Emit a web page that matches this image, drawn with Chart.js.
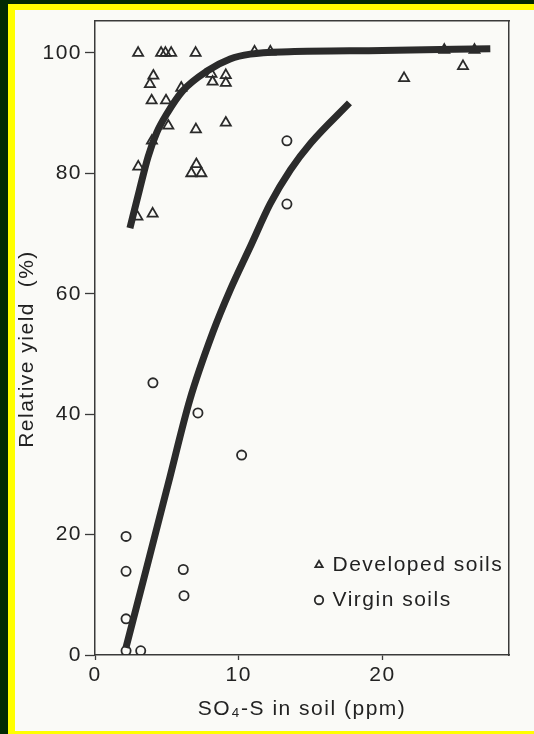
<!DOCTYPE html>
<html>
<head>
<meta charset="utf-8">
<script src="https://cdn.jsdelivr.net/npm/chart.js@4.4.0/dist/chart.umd.min.js"></script>
<style>
  html, body { margin: 0; padding: 0; width: 534px; height: 734px; overflow: hidden; background: #012a03; }
  #frame { position: absolute; left: 8px; top: 4px; width: 526px; height: 730px; background: #ffff00; }
  #paper { position: absolute; left: 15px; top: 10px; width: 519px; height: 721px; background: #fafaf7; }
  canvas { display: block; }
</style>
</head>
<body>
<div id="frame"></div>
<div id="paper"><canvas id="chart" width="519" height="721"></canvas></div>
<script>
// --- DONNÉES ---
const xTicks = [0, 10, 20];
const yTicks = [0, 20, 40, 60, 80, 100];

// Sols développés (triangles)
const developedX = [3.0, 4.6, 4.9, 5.3, 7.0, 4.06, 3.82, 3.94, 4.94, 8.18, 9.1, 9.1, 9.1, 7.02,
                    7.05, 6.7, 7.4, 3.01, 4.01, 21.5, 25.6,
                    2.95, 3.96, 5.1, 6.0, 8.1, 11.1, 12.2, 24.3, 26.4];
const developedY = [100, 100, 100, 100, 100, 96.2, 94.8, 92.1, 92.1, 95.2, 96.3, 95.0, 88.4, 87.3,
                    81.5, 80.0, 80.0, 81.1, 73.3, 95.8, 97.8,
                    72.8, 85.4, 87.9, 94.2, 96.5, 100.2, 100.2, 100.5, 100.5];

// Sols vierges (cercles)
const virginX = [4.03, 7.16, 10.2, 2.16, 2.16, 6.14, 6.19, 2.16, 2.16, 3.18, 13.35, 13.35];
const virginY = [45.2, 40.2, 33.2, 19.7, 13.9, 14.2, 9.85, 6.0, 0.7, 0.7, 85.4, 74.9];

// Courbes ajustées (tracé épais)
const developedFitX = [2.43, 3.1, 3.7, 4.3, 5.0, 6.1, 7.8, 9.4, 10.8, 13.5, 20, 27.5];
const developedFitY = [70.9, 77.3, 82.8, 86.8, 89.9, 93.7, 97.0, 99.0, 99.8, 100.2, 100.4, 100.7];
const virginFitX = [2.15, 3.55, 5.1, 6.6, 8.2, 9.4, 10.8, 12.2, 13.6, 15.0, 17.7];
const virginFitY = [1.2, 14.1, 28.5, 42.4, 53.6, 60.6, 67.8, 75.0, 80.6, 85.0, 91.7];

// --- STYLE ---
const ink = '#222';
const fontFamily = '"Liberation Sans", Arial, "DejaVu Sans", sans-serif';
Chart.defaults.font.family = fontFamily;
Chart.defaults.font.size = 21;
Chart.defaults.color = ink;

function toPoints(xs, ys) {
  return xs.map((x, i) => ({ x: x, y: ys[i] }));
}

// Police du scan un peu large : on espace les lettres
const spacing = {
  id: 'spacing',
  beforeUpdate: c => { c.ctx.letterSpacing = '1.5px'; },
  beforeDraw: c => { c.ctx.letterSpacing = '1.5px'; }
};

// Légende placée dans la zone du graphique, en bas à droite
const legendSpot = {
  id: 'legendSpot',
  afterLayout: c => {
    const lg = c.legend;
    lg.left = 287;
    lg.top = 530.5;
    lg.width = 232;
    lg.height = 110;
    lg.right = lg.left + lg.width;
    lg.bottom = lg.top + lg.height;
  }
};

// Pas de marge supplémentaire : le cadre est fixé à la main
function noPadding(s) {
  s.paddingTop = 0;
  s.paddingBottom = 0;
  s.paddingLeft = 0;
  s.paddingRight = 0;
}

const frameAxis = size => ({
  display: true,
  afterFit: s => {
    if (s.isHorizontal()) s.height = size; else s.width = size;
    noPadding(s);
  },
  ticks: { display: false },
  grid: { display: false },
  border: { display: true, color: '#3a3a3a', width: 1.5 }
});

new Chart(document.getElementById('chart'), {
  type: 'scatter',
  data: {
    datasets: [
      {
        label: 'Developed soils',
        data: toPoints(developedX, developedY),
        pointStyle: 'triangle',
        pointRadius: 5.8,
        pointHoverRadius: 5.8,
        borderColor: '#2a2a2a',
        backgroundColor: 'rgba(0,0,0,0)',
        borderWidth: 1.8,
        order: 2
      },
      {
        label: 'Virgin soils',
        data: toPoints(virginX, virginY),
        pointStyle: 'circle',
        pointRadius: 4.6,
        pointHoverRadius: 4.6,
        borderColor: '#2a2a2a',
        backgroundColor: 'rgba(0,0,0,0)',
        borderWidth: 1.8,
        order: 2
      },
      {
        label: 'fit-developed',
        type: 'line',
        data: toPoints(developedFitX, developedFitY),
        borderColor: '#2b2b2b',
        borderWidth: 7,
        pointRadius: 0,
        cubicInterpolationMode: 'monotone',
        order: 0
      },
      {
        label: 'fit-virgin',
        type: 'line',
        data: toPoints(virginFitX, virginFitY),
        borderColor: '#2b2b2b',
        borderWidth: 7,
        pointRadius: 0,
        cubicInterpolationMode: 'monotone',
        order: 0
      }
    ]
  },
  options: {
    responsive: false,
    animation: false,
    events: [],
    layout: { padding: 0 },
    scales: {
      x: {
        type: 'linear',
        position: 'bottom',
        min: 0,
        max: 28.8,
        afterFit: s => { s.height = 76; noPadding(s); },
        afterBuildTicks: s => { s.ticks = xTicks.map(v => ({ value: v })); },
        ticks: { padding: 3, maxRotation: 0, autoSkip: false, color: ink },
        grid: { display: true, drawOnChartArea: false, tickLength: 5, color: '#3a3a3a', tickWidth: 1.3 },
        border: { display: true, color: '#3a3a3a', width: 1.5 },
        title: {
          display: true,
          text: 'SO\u2084-S in soil (ppm)',
          color: ink,
          padding: { top: 0, bottom: 9 }
        }
      },
      y: {
        type: 'linear',
        position: 'left',
        min: 0,
        max: 105.3,
        afterFit: s => { s.width = 80; noPadding(s); },
        afterBuildTicks: s => { s.ticks = yTicks.map(v => ({ value: v })); },
        ticks: { padding: 3, color: ink },
        grid: { display: true, drawOnChartArea: false, tickLength: 10, color: '#3a3a3a', tickWidth: 1.3 },
        border: { display: true, color: '#3a3a3a', width: 1.5 },
        title: {
          display: true,
          text: 'Relative yield  (%)   ',
          color: ink,
          padding: { top: 0, bottom: 0 }
        }
      },
      xTop: Object.assign({ type: 'linear', position: 'top' }, frameAxis(11)),
      yRight: Object.assign({ type: 'linear', position: 'right' }, frameAxis(25))
    },
    plugins: {
      tooltip: { enabled: false },
      legend: {
        display: true,
        position: 'chartArea',
        align: 'start',
        labels: {
          usePointStyle: true,
          boxWidth: 6,
          boxHeight: 6,
          padding: 14,
          color: ink,
          font: { size: 21 },
          filter: item => item.datasetIndex < 2
        }
      }
    }
  },
  plugins: [spacing, legendSpot]
});
</script>
</body>
</html>
